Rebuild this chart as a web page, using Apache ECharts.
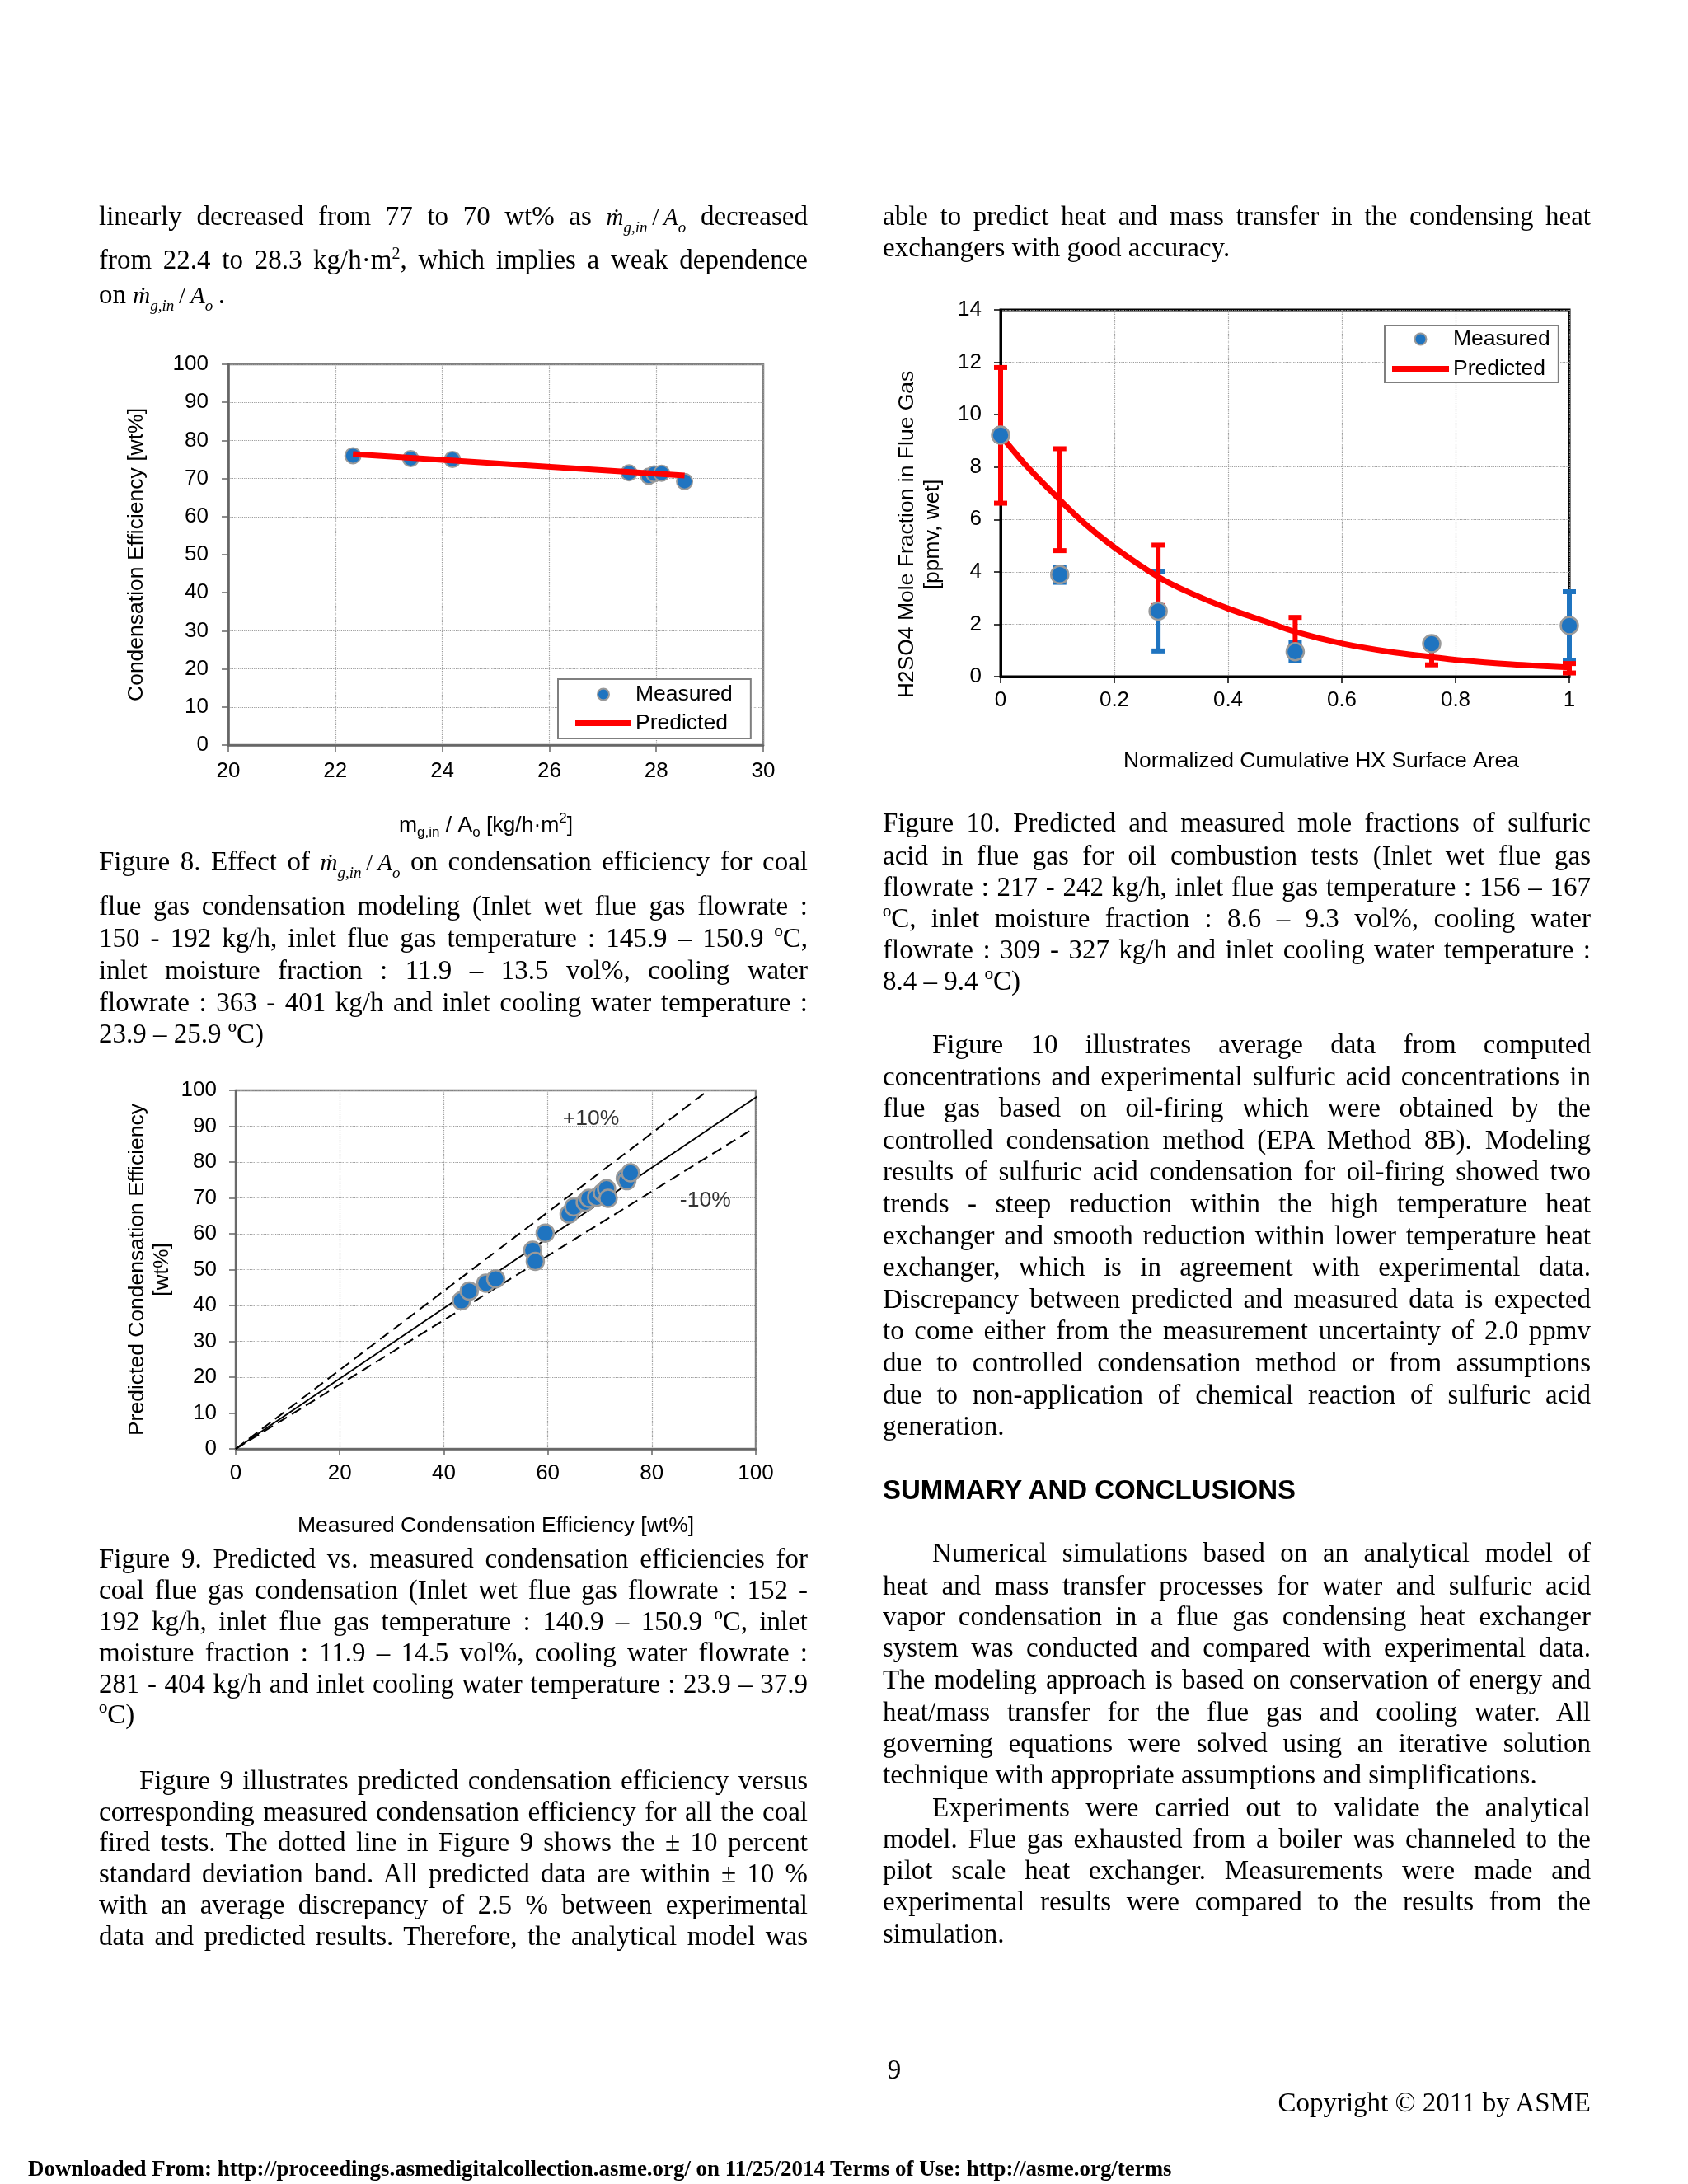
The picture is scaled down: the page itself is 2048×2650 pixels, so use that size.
<!DOCTYPE html>
<html><head><meta charset="utf-8">
<script src="https://cdn.jsdelivr.net/npm/echarts@6/dist/echarts.min.js"></script>
<style>
html,body{margin:0;padding:0;background:#fff;}
#page{position:relative;width:2048px;height:2650px;overflow:hidden;background:#fff;}
#chart{position:absolute;left:0;top:0;width:2048px;height:2650px;}
.ln{position:absolute;font-family:"Liberation Serif","Times New Roman",serif;font-size:33px;line-height:38px;color:#000;white-space:nowrap;}
.ln sup{font-size:20px;vertical-align:12px;line-height:0;}
.mt{font-size:29px;}
.mt i{font-style:italic;}
.mt sub{font-size:19px;font-style:italic;vertical-align:-9px;line-height:0;}
.hd{position:absolute;font-family:"Liberation Sans",Arial,sans-serif;font-weight:bold;font-size:33px;line-height:38px;color:#000;white-space:nowrap;}
.dl{position:absolute;font-family:"Liberation Serif","Times New Roman",serif;font-weight:bold;font-size:25px;line-height:30px;color:#000;white-space:nowrap;}
</style>
</head>
<body>
<div id="page"><div id="chart"></div></div>
<script>
// ---------------- Figure 8 data ----------------
const fig8X = [22.33, 23.41, 24.19, 27.49, 27.86, 27.96, 28.10, 28.53];
const fig8Measured = [76.0, 75.2, 75.0, 71.5, 70.6, 71.2, 71.4, 69.2];
const fig8PredX = [22.33, 28.53];
const fig8Predicted = [76.4, 70.8];

// ---------------- Figure 9 data ----------------
const fig9Measured = [43.4, 44.9, 48.1, 50.0, 57.1, 57.6, 59.5, 64.1, 65.0, 67.2, 67.9, 69.4, 70.5, 71.3, 71.6, 74.9, 75.2, 75.9];
const fig9Predicted = [41.3, 44.0, 46.2, 47.4, 55.4, 52.3, 60.2, 65.5, 67.5, 68.8, 69.9, 70.2, 71.5, 72.6, 69.9, 75.5, 74.8, 77.0];
const fig9ParityX = [0, 101.6];
const fig9ParityY = [0, 99.6];
const fig9PlusX = [0, 90.5];
const fig9PlusY = [0, 99.6];
const fig9MinusX = [0, 99.6];
const fig9MinusY = [0, 89.4];
const fig9BandLabels = ['+10%', '-10%'];
const fig9BandLabelX = [68.3, 90.3];
const fig9BandLabelY = [92.0, 69.2];

// ---------------- Figure 10 data ----------------
const fig10X = [0, 0.104, 0.277, 0.518, 0.758, 1.0];
const fig10Measured = [9.22, 3.89, 2.50, 0.95, 1.26, 1.95];
const fig10MeasLow = [9.0, 3.6, 0.98, 0.61, 1.1, 0.61];
const fig10MeasHigh = [9.4, 4.18, 4.02, 1.29, 1.42, 3.24];
const fig10PredLow = [6.62, 4.81, 2.71, 1.13, 0.45, 0.14];
const fig10PredHigh = [11.80, 8.70, 5.02, 2.26, 1.08, 0.50];
const fig10CurveX = [0, 0.047, 0.104, 0.147, 0.201, 0.277, 0.335, 0.4, 0.469, 0.518, 0.601, 0.683, 0.758, 0.801, 0.898, 1.0];
const fig10Curve = [9.22, 8.01, 6.75, 5.86, 4.92, 3.81, 3.18, 2.60, 2.08, 1.71, 1.26, 0.95, 0.75, 0.64, 0.47, 0.35];

const zip = (a, b) => a.map((v, i) => [v, b[i]]);
const F = '"Liberation Sans", Arial, sans-serif';
const BLUE = '#1f74c0';
const RED = '#ff0000';
const GRAY = '#7f7f7f';

function axisStyle(color, lw, margin) {
  return {
    axisLine: {show: true, onZero: false, lineStyle: {color: color, width: lw}},
    axisTick: {show: true, length: 8, lineStyle: {color: color, width: 1.5}},
    axisLabel: {color: '#000', fontFamily: F, fontSize: 26, margin: margin},
    splitLine: {show: true, lineStyle: {color: '#9a9a9a', type: 'dotted', width: 1.2}},
    nameMoveOverlap: false
  };
}
function errRender(color) {
  return function (params, api) {
    const x = api.value(0), lo = api.value(1), hi = api.value(2);
    const pLo = api.coord([x, lo]), pHi = api.coord([x, hi]);
    const cw = 8, ch = 6;
    return {type: 'group', children: [
      {type: 'line', shape: {x1: pLo[0], y1: pLo[1], x2: pHi[0], y2: pHi[1]}, style: {stroke: color, lineWidth: 6}},
      {type: 'rect', shape: {x: pHi[0] - cw, y: pHi[1] - ch / 2, width: 2 * cw, height: ch}, style: {fill: color}},
      {type: 'rect', shape: {x: pLo[0] - cw, y: pLo[1] - ch / 2, width: 2 * cw, height: ch}, style: {fill: color}}
    ]};
  };
}
const legendIcons = [{name: 'Measured', icon: 'circle'}, {name: 'Predicted', icon: 'path://M0,0h68v7h-68z'}];

const chart = echarts.init(document.getElementById('chart'), null, {renderer: 'canvas'});
chart.setOption({
  animation: false,
  backgroundColor: 'transparent',
  textStyle: {fontFamily: F},
  grid: [
    {left: 277, top: 442, width: 649, height: 462, show: true, borderColor: GRAY, borderWidth: 2.5, containLabel: false, outerBoundsMode: 'none'},
    {left: 286, top: 1323, width: 631, height: 435, show: true, borderColor: GRAY, borderWidth: 2.5, containLabel: false, outerBoundsMode: 'none'},
    {left: 1214, top: 376, width: 690, height: 445, show: true, borderColor: '#000', borderWidth: 3, containLabel: false, outerBoundsMode: 'none'}
  ],
  xAxis: [
    Object.assign({gridIndex: 0, type: 'value', min: 20, max: 30, interval: 2,
      name: 'm{s|g,in} / A{s|o} [kg/h·m{p|2}]', nameLocation: 'middle', nameGap: 80,
      nameTextStyle: {color: '#000', fontFamily: F, fontSize: 26.5, padding: [0, 24, 0, 0],
        rich: {s: {fontSize: 17, fontFamily: F, color: '#000', padding: [18, 0, 0, 0]},
               p: {fontSize: 17, fontFamily: F, color: '#000', padding: [0, 0, 16, 0]}}}
    }, axisStyle('#666', 2.5, 19)),
    Object.assign({gridIndex: 1, type: 'value', min: 0, max: 100, interval: 20,
      name: 'Measured Condensation Efficiency [wt%]', nameLocation: 'middle', nameGap: 80,
      nameTextStyle: {color: '#000', fontFamily: F, fontSize: 26.5}
    }, axisStyle('#666', 2.5, 17)),
    Object.assign({gridIndex: 2, type: 'value', min: 0, max: 1, interval: 0.2,
      name: 'Normalized Cumulative HX Surface Area', nameLocation: 'middle', nameGap: 89,
      nameTextStyle: {color: '#000', fontFamily: F, fontSize: 26.5, padding: [0, 0, 0, 88]}
    }, axisStyle('#000', 3, 16))
  ],
  yAxis: [
    Object.assign({gridIndex: 0, type: 'value', min: 0, max: 100, interval: 10,
      name: 'Condensation Efficiency [wt%]', nameLocation: 'middle', nameGap: 98, nameRotate: 90,
      nameTextStyle: {color: '#000', fontFamily: F, fontSize: 26.5}
    }, axisStyle('#666', 2.5, 24)),
    Object.assign({gridIndex: 1, type: 'value', min: 0, max: 100, interval: 10,
      name: 'Predicted Condensation Efficiency\n[wt%]', nameLocation: 'middle', nameGap: 74, nameRotate: 90,
      nameTextStyle: {color: '#000', fontFamily: F, fontSize: 26.5, lineHeight: 30}
    }, axisStyle('#666', 2.5, 23)),
    Object.assign({gridIndex: 2, type: 'value', min: 0, max: 14, interval: 2,
      name: 'H2SO4 Mole Fraction in Flue Gas\n[ppmv, wet]', nameLocation: 'middle', nameGap: 67, nameRotate: 90,
      nameTextStyle: {color: '#000', fontFamily: F, fontSize: 26.5, lineHeight: 31, padding: [0, 100, 0, 0]}
    }, axisStyle('#000', 3, 23))
  ],
  legend: [
    {data: legendIcons, orient: 'vertical', left: 677, top: 824, padding: [5, 22, 5, 21],
     itemWidth: 68, itemHeight: 14, itemGap: 8, selectedMode: false,
     backgroundColor: '#fff', borderColor: GRAY, borderWidth: 2,
     textStyle: {color: '#000', fontFamily: F, fontSize: 26.5, lineHeight: 26}},
    {data: legendIcons, orient: 'vertical', left: 1680, top: 395, padding: [3, 10, 3, 9],
     itemWidth: 69, itemHeight: 14, itemGap: 9, selectedMode: false,
     backgroundColor: '#fff', borderColor: GRAY, borderWidth: 2,
     textStyle: {color: '#000', fontFamily: F, fontSize: 26.5, lineHeight: 26}}
  ],
  series: [
    // Figure 8
    {name: 'Measured', type: 'scatter', xAxisIndex: 0, yAxisIndex: 0, z: 2,
     data: zip(fig8X, fig8Measured), symbol: 'circle', symbolSize: 19,
     itemStyle: {color: BLUE, borderColor: '#9a9a9a', borderWidth: 2, opacity: 1}},
    {name: 'Predicted', type: 'line', xAxisIndex: 0, yAxisIndex: 0, z: 3,
     data: zip(fig8PredX, fig8Predicted), symbol: 'none', showSymbol: false,
     lineStyle: {color: RED, width: 7}, itemStyle: {color: RED, borderWidth: 0}},
    // Figure 9
    {name: 'Parity line', type: 'line', xAxisIndex: 1, yAxisIndex: 1, z: 2, clip: false,
     data: zip(fig9ParityX, fig9ParityY), symbol: 'none', lineStyle: {color: '#000', width: 2}},
    {name: '+10% line', type: 'line', xAxisIndex: 1, yAxisIndex: 1, z: 2,
     data: zip(fig9PlusX, fig9PlusY), symbol: 'none', lineStyle: {color: '#000', width: 2, type: [13, 7]}},
    {name: '-10% line', type: 'line', xAxisIndex: 1, yAxisIndex: 1, z: 2,
     data: zip(fig9MinusX, fig9MinusY), symbol: 'none', lineStyle: {color: '#000', width: 2, type: [13, 7]}},
    {name: 'Measured vs predicted', type: 'scatter', xAxisIndex: 1, yAxisIndex: 1, z: 3,
     data: zip(fig9Measured, fig9Predicted), symbol: 'circle', symbolSize: 21,
     itemStyle: {color: BLUE, borderColor: '#9a9a9a', borderWidth: 2.5, opacity: 1}},
    {name: 'Band labels', type: 'scatter', xAxisIndex: 1, yAxisIndex: 1, z: 4,
     data: fig9BandLabels.map((n, i) => ({name: n, value: [fig9BandLabelX[i], fig9BandLabelY[i]]})),
     symbol: 'circle', symbolSize: 1, itemStyle: {color: 'rgba(0,0,0,0)'},
     label: {show: true, position: 'inside', formatter: '{b}', color: '#000', fontFamily: F, fontSize: 26.5}},
    // Figure 10
    {name: 'Measured error', type: 'custom', xAxisIndex: 2, yAxisIndex: 2, z: 2,
     renderItem: errRender(BLUE), encode: {x: 0, y: [1, 2]},
     data: fig10X.map((x, i) => [x, fig10MeasLow[i], fig10MeasHigh[i]])},
    {name: 'Predicted error', type: 'custom', xAxisIndex: 2, yAxisIndex: 2, z: 3,
     renderItem: errRender(RED), encode: {x: 0, y: [1, 2]},
     data: fig10X.map((x, i) => [x, fig10PredLow[i], fig10PredHigh[i]])},
    {name: 'Predicted', type: 'line', xAxisIndex: 2, yAxisIndex: 2, z: 4, smooth: 0.35,
     data: zip(fig10CurveX, fig10Curve), symbol: 'none', showSymbol: false,
     lineStyle: {color: RED, width: 7}, itemStyle: {color: RED, borderWidth: 0}},
    {name: 'Measured', type: 'scatter', xAxisIndex: 2, yAxisIndex: 2, z: 5,
     data: zip(fig10X, fig10Measured), symbol: 'circle', symbolSize: 21,
     itemStyle: {color: BLUE, borderColor: '#9a9a9a', borderWidth: 2.5, opacity: 1}}
  ]
});

// ---------------- Page text ----------------
const page = document.getElementById('page');
const M = '<span class="mt"><i>\u1E41</i><sub>g,in</sub>\u2009/\u2009<i>A</i><sub>o</sub></span>';
const LEFT = {x: 120, w: 860};
const RIGHT = {x: 1071, w: 859};

function place(col, ys, lines, opts) {
  opts = opts || {};
  lines.forEach((html, i) => {
    const d = document.createElement('div');
    d.className = 'ln';
    const indent = (i === 0 && opts.indent) ? opts.indent : 0;
    d.style.left = (col.x + indent) + 'px';
    d.style.top = (ys[i] - 20) + 'px';
    d.innerHTML = '<span>' + html + '</span>';
    page.appendChild(d);
    const justify = !(opts.lastLeft && i === lines.length - 1);
    if (justify) {
      const span = d.firstChild;
      const w = span.getBoundingClientRect().width;
      const target = col.w - indent;
      const n = (span.textContent.match(/ /g) || []).length;
      if (n > 0) span.style.wordSpacing = ((target - w) / n) + 'px';
    }
  });
}
function seq(y0, dy, n) { const a = []; for (let i = 0; i < n; i++) a.push(Math.round(y0 + i * dy)); return a; }

place(LEFT, [263, 316, 358], [
  'linearly decreased from 77 to 70 wt% as ' + M + ' decreased',
  'from 22.4 to 28.3 kg/h·m<sup>2</sup>, which implies a weak dependence',
  'on ' + M + '\u2009.'
], {lastLeft: true});

place(RIGHT, [263, 301], [
  'able to predict heat and mass transfer in the condensing heat',
  'exchangers with good accuracy.'
], {lastLeft: true});

place(LEFT, [1046, 1100, 1139, 1178, 1217, 1255], [
  'Figure 8. Effect of ' + M + ' on condensation efficiency for coal',
  'flue gas condensation modeling (Inlet wet flue gas flowrate :',
  '150 - 192 kg/h, inlet flue gas temperature : 145.9 – 150.9 ºC,',
  'inlet moisture fraction : 11.9 – 13.5 vol%, cooling water',
  'flowrate : 363 - 401 kg/h and inlet cooling water temperature :',
  '23.9 – 25.9 ºC)'
], {lastLeft: true});

place(LEFT, [1892, 1930, 1968, 2006, 2044, 2081], [
  'Figure 9. Predicted vs. measured condensation efficiencies for',
  'coal flue gas condensation (Inlet wet flue gas flowrate : 152 -',
  '192 kg/h, inlet flue gas temperature : 140.9 – 150.9 ºC, inlet',
  'moisture fraction : 11.9 – 14.5 vol%, cooling water flowrate :',
  '281 - 404 kg/h and inlet cooling water temperature : 23.9 – 37.9',
  'ºC)'
], {lastLeft: true});

place(LEFT, [2161, 2199, 2236, 2274, 2312, 2350], [
  'Figure 9 illustrates predicted condensation efficiency versus',
  'corresponding measured condensation efficiency for all the coal',
  'fired tests. The dotted line in Figure 9 shows the ± 10 percent',
  'standard deviation band. All predicted data are within ± 10 %',
  'with an average discrepancy of 2.5 % between experimental',
  'data and predicted results. Therefore, the analytical model was'
], {indent: 49});

place(RIGHT, [999, 1039, 1077, 1115, 1153, 1191], [
  'Figure 10. Predicted and measured mole fractions of sulfuric',
  'acid in flue gas for oil combustion tests (Inlet wet flue gas',
  'flowrate : 217 - 242 kg/h, inlet flue gas temperature : 156 – 167',
  'ºC, inlet moisture fraction : 8.6 – 9.3 vol%, cooling water',
  'flowrate : 309 - 327 kg/h and inlet cooling water temperature :',
  '8.4 – 9.4 ºC)'
], {lastLeft: true});

place(RIGHT, seq(1268, 38.6, 13), [
  'Figure 10 illustrates average data from computed',
  'concentrations and experimental sulfuric acid concentrations in',
  'flue gas based on oil-firing which were obtained by the',
  'controlled condensation method (EPA Method 8B). Modeling',
  'results of sulfuric acid condensation for oil-firing showed two',
  'trends - steep reduction within the high temperature heat',
  'exchanger and smooth reduction within lower temperature heat',
  'exchanger, which is in agreement with experimental data.',
  'Discrepancy between predicted and measured data is expected',
  'to come either from the measurement uncertainty of 2.0 ppmv',
  'due to controlled condensation method or from assumptions',
  'due to non-application of chemical reaction of sulfuric acid',
  'generation.'
], {indent: 60, lastLeft: true});

(function () {
  const h = document.createElement('div');
  h.className = 'hd';
  h.style.left = '1071px'; h.style.top = (1808 - 19) + 'px';
  h.textContent = 'SUMMARY AND CONCLUSIONS';
  page.appendChild(h);
})();

place(RIGHT, [1885, 1925, 1962, 2000, 2039, 2078, 2116, 2154], [
  'Numerical simulations based on an analytical model of',
  'heat and mass transfer processes for water and sulfuric acid',
  'vapor condensation in a flue gas condensing heat exchanger',
  'system was conducted and compared with experimental data.',
  'The modeling approach is based on conservation of energy and',
  'heat/mass transfer for the flue gas and cooling water. All',
  'governing equations were solved using an iterative solution',
  'technique with appropriate assumptions and simplifications.'
], {indent: 60, lastLeft: true});

place(RIGHT, [2194, 2232, 2270, 2308, 2347], [
  'Experiments were carried out to validate the analytical',
  'model. Flue gas exhausted from a boiler was channeled to the',
  'pilot scale heat exchanger. Measurements were made and',
  'experimental results were compared to the results from the',
  'simulation.'
], {indent: 60, lastLeft: true});

// footer
(function () {
  const n = document.createElement('div');
  n.className = 'ln';
  n.style.left = '985px'; n.style.width = '200px'; n.style.textAlign = 'center';
  n.style.top = (2512 - 20) + 'px';
  n.textContent = '9';
  page.appendChild(n);

  const c = document.createElement('div');
  c.className = 'ln';
  c.style.left = '1330px'; c.style.width = '600px'; c.style.textAlign = 'right';
  c.style.top = (2552 - 20) + 'px';
  c.textContent = 'Copyright © 2011 by ASME';
  page.appendChild(c);

  const d = document.createElement('div');
  d.className = 'dl';
  d.style.left = '34px'; d.style.top = (2632 - 16) + 'px';
  d.innerHTML = '<span>Downloaded From: http://proceedings.asmedigitalcollection.asme.org/ on 11/25/2014 Terms of Use: http://asme.org/terms</span>';
  page.appendChild(d);
  const w = d.firstChild.getBoundingClientRect().width;
  const fs = 25 * 1388 / w;
  d.style.fontSize = fs.toFixed(2) + 'px';
})();
</script>
</body></html>
